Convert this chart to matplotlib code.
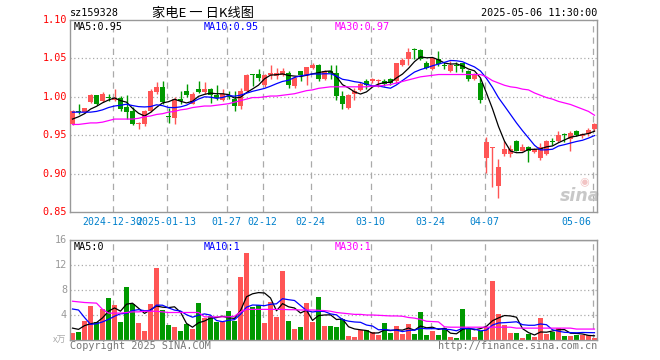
import matplotlib
matplotlib.use("Agg")
import matplotlib.pyplot as plt
import numpy as np
import pandas as pd

code = "sz159328"
title = "家电E 一 日K线图"
stamp = "2025-05-06 11:30:00"
price_legend = ["MA5:0.95", "MA10:0.95", "MA30:0.97"]
vol_legend = ["MA5:0", "MA10:1", "MA30:1"]

opens = [0.964, 0.982, 0.980, 0.993, 1.002, 0.994, 0.999, 0.996, 0.998, 0.987,
         0.981, 0.964, 0.964, 0.981, 1.006, 1.013, 0.975, 0.973, 0.997, 1.008,
         0.991, 1.010, 1.006, 1.010, 1.002, 0.996, 1.001, 0.997, 0.988, 1.008,
         1.029, 1.030, 1.016, 1.028, 1.027, 1.029, 1.031, 1.014, 1.033, 1.028,
         1.037, 1.041, 1.023, 1.033, 1.031, 1.001, 0.986, 1.003, 1.009, 1.020,
         1.020, 1.020, 1.020, 1.023, 1.020, 1.041, 1.049, 1.062, 1.061, 1.044,
         1.036, 1.049, 1.041, 1.033, 1.041, 1.044, 1.033, 1.023, 1.018, 0.920,
         0.933, 0.884, 0.925, 0.926, 0.943, 0.930, 0.935, 0.928, 0.920, 0.925,
         0.942, 0.942, 0.952, 0.945, 0.956, 0.949, 0.951, 0.958]
highs = [0.983, 0.990, 0.986, 1.004, 1.002, 1.006, 1.003, 1.010, 1.001, 1.002,
         0.987, 0.967, 0.983, 1.010, 1.019, 1.020, 0.986, 1.000, 1.007, 1.017,
         1.006, 1.020, 1.019, 1.011, 1.015, 1.010, 1.007, 1.007, 1.012, 1.030,
         1.030, 1.036, 1.030, 1.041, 1.038, 1.037, 1.033, 1.027, 1.033, 1.039,
         1.044, 1.043, 1.035, 1.041, 1.041, 1.007, 1.004, 1.012, 1.019, 1.023,
         1.025, 1.023, 1.023, 1.025, 1.044, 1.051, 1.064, 1.064, 1.062, 1.046,
         1.052, 1.060, 1.045, 1.046, 1.045, 1.044, 1.035, 1.031, 1.025, 0.948,
         0.935, 0.919, 0.942, 0.937, 0.944, 0.938, 0.936, 0.933, 0.940, 0.944,
         0.946, 0.955, 0.953, 0.955, 0.957, 0.953, 0.959, 0.966]
lows = [0.963, 0.978, 0.979, 0.992, 0.989, 0.993, 0.994, 0.994, 0.982, 0.971,
        0.963, 0.958, 0.962, 0.980, 1.004, 0.991, 0.966, 0.964, 0.990, 1.000,
        0.990, 1.005, 1.003, 0.992, 0.996, 0.994, 0.997, 0.981, 0.984, 1.006,
        1.014, 1.021, 1.013, 1.023, 1.023, 1.027, 1.012, 1.012, 1.020, 1.016,
        1.036, 1.020, 1.022, 1.023, 0.996, 0.984, 0.984, 0.996, 1.007, 1.010,
        1.018, 1.013, 1.014, 1.016, 1.018, 1.040, 1.041, 1.049, 1.048, 1.036,
        1.035, 1.040, 1.036, 1.032, 1.032, 1.032, 1.020, 1.022, 0.992, 0.901,
        0.882, 0.868, 0.923, 0.922, 0.929, 0.929, 0.915, 0.927, 0.918, 0.924,
        0.937, 0.941, 0.941, 0.929, 0.949, 0.946, 0.949, 0.956]
closes = [0.981, 0.980, 0.985, 1.002, 0.990, 1.004, 0.998, 0.999, 0.984, 0.980,
          0.964, 0.966, 0.981, 1.007, 1.013, 0.993, 0.974, 0.997, 0.994, 1.002,
          1.004, 1.006, 1.010, 1.002, 0.998, 1.004, 1.000, 0.988, 1.007, 1.028,
          1.028, 1.025, 1.029, 1.031, 1.031, 1.033, 1.015, 1.025, 1.028, 1.039,
          1.042, 1.023, 1.033, 1.031, 1.001, 0.991, 1.002, 1.007, 1.017, 1.015,
          1.023, 1.021, 1.017, 1.018, 1.044, 1.048, 1.058, 1.061, 1.049, 1.038,
          1.050, 1.043, 1.040, 1.042, 1.040, 1.036, 1.023, 1.028, 0.996, 0.941,
          0.934, 0.908, 0.932, 0.932, 0.930, 0.935, 0.929, 0.932, 0.935, 0.943,
          0.941, 0.950, 0.950, 0.953, 0.950, 0.951, 0.957, 0.965]
volumes = [1.17, 1.33, 3.04, 5.44, 2.93, 4.96, 6.72, 5.60, 2.88, 8.48,
           5.76, 2.72, 1.44, 5.76, 11.52, 4.80, 2.40, 2.08, 1.44, 2.56,
           1.76, 5.92, 3.52, 3.84, 2.88, 2.88, 4.64, 3.04, 10.08, 13.92,
           5.28, 5.60, 2.72, 6.08, 3.68, 11.04, 3.04, 1.76, 2.08, 5.92,
           2.88, 6.88, 2.24, 2.24, 2.13, 3.36, 0.64, 0.48, 1.55, 1.55,
           1.28, 0.85, 2.72, 1.12, 2.24, 0.96, 2.56, 0.96, 4.48, 0.80,
           1.44, 0.80, 1.92, 0.48, 0.32, 4.96, 1.92, 0.48, 1.44, 2.13,
           9.44, 4.16, 2.40, 1.12, 1.12, 0.32, 0.96, 0.48, 3.52, 0.96,
           1.28, 1.92, 0.64, 0.64, 0.80, 0.80, 0.80, 0.32]

# first values of the moving averages (window not full yet)
price_ma5_head = [0.971, 0.974, 0.978, 0.984]
price_ma10_head = [0.980, 0.980, 0.980, 0.980, 0.981, 0.983, 0.986, 0.988, 0.989]
vol_ma5_head = [1.9, 1.7, 2.3, 2.6]
vol_ma10_head = [4.96, 4.8, 3.6, 2.5, 2.6, 2.9, 3.3, 3.8, 4.2]
price_ma30 = [0.964, 0.964, 0.965, 0.966, 0.966, 0.967, 0.969, 0.971, 0.971, 0.971,
              0.971, 0.972, 0.974, 0.975, 0.977, 0.978, 0.980, 0.981, 0.983, 0.984,
              0.986, 0.987, 0.988, 0.988, 0.989, 0.990, 0.991, 0.993, 0.995, 0.997,
              0.999, 0.999, 1.000, 1.001, 1.001, 1.002, 1.003, 1.004, 1.006, 1.008,
              1.009, 1.011, 1.012, 1.013, 1.013, 1.013, 1.013, 1.013, 1.013, 1.013,
              1.014, 1.014, 1.015, 1.016, 1.018, 1.020, 1.022, 1.024, 1.026, 1.027,
              1.028, 1.029, 1.029, 1.029, 1.029, 1.029, 1.029, 1.029, 1.029, 1.026,
              1.021, 1.018, 1.015, 1.013, 1.012, 1.010, 1.009, 1.005, 1.002, 0.999,
              0.997, 0.994, 0.992, 0.990, 0.987, 0.984, 0.981, 0.976]
vol_ma30 = [6.2, 6.1, 6.0, 5.95, 5.9, 4.9, 4.3, 4.3, 4.3, 4.4,
            4.5, 4.5, 4.6, 4.6, 4.6, 4.5, 4.4, 4.4, 4.4, 4.4,
            4.4, 4.4, 3.7, 3.7, 3.7, 3.7, 3.7, 3.8, 4.5, 4.9,
            4.9, 4.9, 4.9, 4.9, 4.9, 4.9, 4.85, 4.85, 4.8, 4.8,
            4.8, 4.75, 4.7, 4.6, 4.4, 4.3, 4.2, 4.1, 4.1, 4.0,
            4.0, 3.95, 3.9, 3.85, 3.85, 3.8, 3.6, 3.5, 3.3, 3.0,
            2.95, 2.9, 2.1, 2.05, 2.05, 2.05, 2.05, 2.05, 2.05, 2.05,
            2.05, 2.05, 2.05, 2.05, 1.9, 1.9, 1.9, 1.9, 1.9, 1.9,
            1.9, 1.9, 1.9, 1.9, 1.75, 1.75, 1.75, 1.75]

tick_bars = [7, 16, 26, 32, 40, 50, 60, 69, 87]
tick_labels = ["2024-12-30", "2025-01-13", "01-27", "02-12", "02-24",
               "03-10", "03-24", "04-07", "05-06"]
price_ticks = [0.85, 0.90, 0.95, 1.00, 1.05, 1.10]
vol_ticks = [4, 8, 12, 16]

UP = "#ff5555"
DOWN = "#009900"
GRID = "#aaaaaa"
MONO = "DejaVu Sans Mono"
W, H = 660, 360


def moving_avg(values, n, head):
    ma = pd.Series(values).rolling(n).mean().to_numpy()
    ma[:len(head)] = head
    return ma


def fx(px):
    return px / W


def fy(py):
    return 1 - py / H


def style_axes(ax, yticks):
    for s in ax.spines.values():
        s.set_color("#999999")
        s.set_linewidth(1.0)
    ax.set_xlim(-0.42, 87.42)
    ax.set_xticks([])
    ax.set_yticks([])
    for t in tick_bars:
        ax.axvline(t - 0.33, color=GRID, lw=0.9, dashes=(5, 4), zorder=0)
    for v in yticks[1:-1]:
        ax.axhline(v, color=GRID, lw=0.9, dashes=(1, 2), zorder=0)


o = np.array(opens)
h = np.array(highs)
lo = np.array(lows)
c = np.array(closes)
v = np.array(volumes)
x = np.arange(len(c))
colors = [UP if cc >= oo else DOWN for oo, cc in zip(o, c)]

fig = plt.figure(figsize=(6.6, 3.6), dpi=100)
fig.patch.set_facecolor("white")

ax = fig.add_axes([fx(70), fy(212), fx(527), 192 / H])
ax.set_ylim(0.85, 1.10)
style_axes(ax, price_ticks)
# sina watermark, bottom right of the price panel
ax.text(0.968, 0.085, "sina", transform=ax.transAxes, color="#c8c8c8",
        fontsize=12.5, fontweight="bold", fontstyle="italic", ha="center",
        va="center", family="DejaVu Sans", zorder=1)
ax.text(0.975, 0.155, "\u25c9", transform=ax.transAxes, color="#f2c4c4",
        fontsize=8, ha="center", va="center", family="DejaVu Sans", zorder=1)
ax.vlines(x, lo, h, colors=colors, lw=1.0, zorder=2)
body = np.maximum(np.abs(c - o), 0.0013)
ax.bar(x, body, bottom=np.minimum(o, c), width=0.8, color=colors, zorder=3)
ax.plot(x, moving_avg(c, 5, price_ma5_head), color="black", lw=0.9, zorder=4)
ax.plot(x, moving_avg(c, 10, price_ma10_head), color="#0000ff", lw=0.9, zorder=4)
ax.plot(x, price_ma30, color="#ff00ff", lw=0.9, zorder=4)
for p in price_ticks:
    ax.text(-0.9, p, f"{p:.2f}", color="red", fontsize=7.3, family=MONO,
            ha="right", va="center")
for t, lab in zip(tick_bars, tick_labels):
    ha = "right" if t == tick_bars[-1] else "center"
    ax.text(t - 0.33 if ha == "center" else t - 0.6, 0.85 - 0.013, lab,
            color="#0080cc", fontsize=7.1, family=MONO, ha=ha, va="center")

axv = fig.add_axes([fx(70), fy(340), fx(527), 100 / H])
axv.set_ylim(0, 16)
style_axes(axv, [0] + vol_ticks)
axv.axhline(16, color="#999999", lw=1.0)
axv.bar(x, v, width=0.8, color=colors, zorder=2)
axv.plot(x, moving_avg(v, 5, vol_ma5_head), color="black", lw=0.9, zorder=4)
axv.plot(x, moving_avg(v, 10, vol_ma10_head), color="#0000ff", lw=0.9, zorder=4)
axv.plot(x, vol_ma30, color="#ff00ff", lw=0.9, zorder=4)
for t in vol_ticks:
    axv.text(-0.9, t, str(t), color="#999999", fontsize=7.3, family=MONO,
             ha="right", va="center")

# header and legends
fig.text(fx(70), fy(13), code, fontsize=7.3, family=MONO, va="center")
fig.text(fx(203), fy(13), title, fontsize=9.5, va="center", ha="center",
         family=["Noto Sans CJK SC", "DejaVu Sans"])
fig.text(fx(597), fy(13), stamp, fontsize=7.3, family=MONO, va="center", ha="right")
for px, lab, col in zip([74, 204, 335], price_legend, ["black", "#0000ff", "#ff00ff"]):
    fig.text(fx(px), fy(27), lab, color=col, fontsize=7.3, family=MONO, va="center")
for px, lab, col in zip([74, 204, 335], vol_legend, ["black", "#0000ff", "#ff00ff"]):
    fig.text(fx(px), fy(247), lab, color=col, fontsize=7.3, family=MONO, va="center")
fig.text(fx(66), fy(340), "x万", color="#aaaaaa", fontsize=6.5, ha="right", va="center",
         family=["Noto Sans CJK SC", "DejaVu Sans"])
fig.text(fx(70), fy(346), "Copyright 2025 SINA.COM", color="#777777", fontsize=7.3,
         family=MONO, va="center")
fig.text(fx(597), fy(346), "http://finance.sina.com.cn", color="#777777", fontsize=7.3,
         family=MONO, va="center", ha="right")

fig.savefig("out.png", dpi=100)
